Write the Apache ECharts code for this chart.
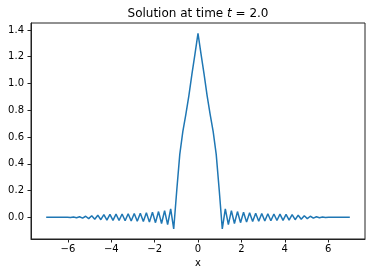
<!DOCTYPE html>
<html><head><meta charset="utf-8">
<script src="https://cdn.jsdelivr.net/npm/echarts@6/dist/echarts.min.js"></script>
<style>html,body{margin:0;padding:0;background:#fff}#c{width:372px;height:277px}</style>
</head><body><div id="c"></div>
<script>
// x grid: -7 .. 7 step 0.14 (101 points)
var xStart = -7, xStep = 0.14;
var uValues = [
 0.000, 0.000, 0.000, 0.000, 0.000, 0.000, 0.000, 0.001, -0.001, 0.002,
 -0.003, 0.004, -0.006, 0.008, -0.010, 0.012, -0.014, 0.016, -0.018, 0.020,
 -0.021, 0.022, -0.023, 0.024, -0.024, 0.025, -0.026, 0.027, -0.028, 0.029,
 -0.030, 0.031, -0.032, 0.034, -0.036, 0.038, -0.040, 0.043, -0.046, 0.050,
 -0.055, 0.063, -0.087, 0.20, 0.47, 0.64, 0.77, 0.91, 1.07, 1.22,
 1.375,
 1.22, 1.07, 0.91, 0.77, 0.64, 0.47, 0.20, -0.087, 0.063, -0.055,
 0.050, -0.046, 0.043, -0.040, 0.038, -0.036, 0.034, -0.032, 0.031, -0.030,
 0.029, -0.028, 0.027, -0.026, 0.025, -0.024, 0.024, -0.023, 0.022, -0.021,
 0.020, -0.018, 0.016, -0.014, 0.012, -0.010, 0.008, -0.006, 0.004, -0.003,
 0.002, -0.001, 0.001, 0.000, 0.000, 0.000, 0.000, 0.000, 0.000, 0.000
];
var xTicks = [-6, -4, -2, 0, 2, 4, 6];
var yTicks = [0.0, 0.2, 0.4, 0.6, 0.8, 1.0, 1.2, 1.4];

var data = uValues.map(function (v, i) { return [+(xStart + i * xStep).toFixed(2), v]; });
var font = 'DejaVu Sans';
var axisCol = '#222';
var chart = echarts.init(document.getElementById('c'), null, {renderer: 'canvas'});
chart.setOption({
  animation: false,
  title: {
    text: '{a|Solution at time }{b|t}{a| = 2.0}',
    left: 193, textAlign: 'center', top: 3,
    textStyle: {
      fontWeight: 'normal',
      rich: {
        a: {fontFamily: font, fontSize: 12, fontWeight: 'normal', color: '#000'},
        b: {fontFamily: font, fontSize: 12, fontWeight: 'normal', fontStyle: 'italic', color: '#000'}
      }
    }
  },
  grid: {left: 31, right: 7, top: 23, bottom: 38, show: true, borderColor: axisCol, borderWidth: 1, backgroundColor: 'transparent'},
  xAxis: {
    type: 'value', min: -7.7, max: 7.7,
    name: 'x', nameLocation: 'middle', nameGap: 19,
    nameTextStyle: {fontFamily: font, fontSize: 10, color: '#000'},
    axisLine: {show: true, onZero: false, lineStyle: {color: axisCol, width: 1}},
    axisTick: {show: true, inside: false, length: 3.5, lineStyle: {color: axisCol}, customValues: xTicks},
    axisLabel: {fontFamily: font, fontSize: 10, color: '#000', margin: 5, customValues: xTicks,
      formatter: function (v) { return String(v).replace('-', '\u2212'); }},
    splitLine: {show: false}
  },
  yAxis: {
    type: 'value', min: -0.162, max: 1.452,
    axisLine: {show: true, onZero: false, lineStyle: {color: axisCol, width: 1}},
    axisTick: {show: true, inside: false, length: 3.5, lineStyle: {color: axisCol}, customValues: yTicks},
    axisLabel: {fontFamily: font, fontSize: 10, color: '#000', margin: 7, customValues: yTicks,
      formatter: function (v) { return v.toFixed(1); }},
    splitLine: {show: false}
  },
  series: [{
    type: 'line', data: data, showSymbol: false, symbol: 'none',
    lineStyle: {color: '#1f77b4', width: 1.5}
  }]
});
</script></body></html>
